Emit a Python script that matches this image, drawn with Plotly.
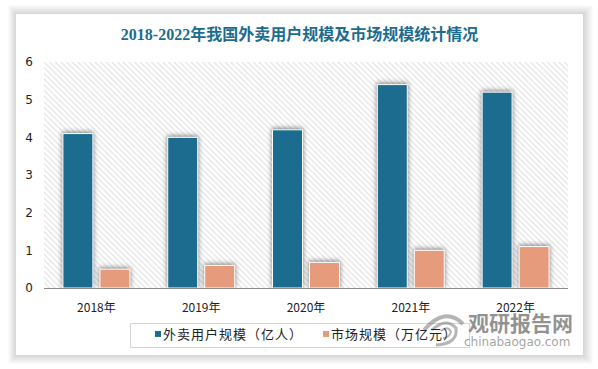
import plotly.graph_objects as go

categories = ["2018年", "2019年", "2020年", "2021年", "2022年"]
users = [4.1, 4.0, 4.2, 5.4, 5.2]
market = [0.5, 0.6, 0.68, 1.0, 1.1]
y_ticks = [0, 1, 2, 3, 4, 5, 6]
title = "2018-2022年我国外卖用户规模及市场规模统计情况"
name_users = "外卖用户规模（亿人）"
name_market = "市场规模（万亿元）"
W, H = 598, 369
L, R, T, B = 44, 568, 62, 288

def px(x): return (x - L) / (R - L)
def py(y): return (B - y) / (B - T)

fig = go.Figure()
# hatched plot background on the base axes, with the bars on an overlay above it
fig.add_trace(go.Bar(x=[categories[2]], y=[6], width=5, offset=-2.5,
    marker=dict(color="white", line_width=0,
        pattern=dict(shape="\\", size=4, solidity=0.32, fgcolor="#c8c8c8", bgcolor="#ffffff")),
    showlegend=False, hoverinfo="skip"))
fig.add_trace(go.Bar(x=categories, y=users, name=name_users, xaxis="x2", yaxis="y2",
    marker=dict(color="#1b6c8f", line=dict(color="white", width=1))))
fig.add_trace(go.Bar(x=categories, y=market, name=name_market, xaxis="x2", yaxis="y2",
    marker=dict(color="#e59b7c", line=dict(color="white", width=1))))

shapes = []
for i in range(10, 0, -1):
    shapes.append(dict(type="rect", xref="paper", yref="paper", layer="below",
        x0=px(16-i*0.8), x1=px(583+i), y0=py(355+i*0.9), y1=py(14-i*0.9),
        fillcolor="rgba(0,0,0,0.016)", line_width=0))
shapes.append(dict(type="rect", xref="paper", yref="paper", layer="below",
    x0=px(16), x1=px(583), y0=py(355), y1=py(14), fillcolor="white", line_width=0))
# legend frame
shapes.append(dict(type="rect", xref="paper", yref="paper", layer="above",
    x0=px(130.5), x1=px(469.5), y0=py(347.5), y1=py(323.5), fillcolor="rgba(0,0,0,0)",
    line=dict(color="#d4d4d4", width=1)))
# watermark logo
for path, w in [
    (f"M {px(424)} {py(330)} Q {px(445)} {py(306)} {px(463)} {py(324)}", 4),
    (f"M {px(432)} {py(330)} Q {px(446)} {py(317)} {px(456)} {py(328)} Q {px(458)} {py(344)} {px(436)} {py(345)}", 3),
    (f"M {px(441)} {py(331)} Q {px(448)} {py(325)} {px(451)} {py(332)} Q {px(449)} {py(338)} {px(443)} {py(338)}", 2),
]:
    shapes.append(dict(type="path", xref="paper", yref="paper", layer="above", path=path,
        line=dict(color="rgba(120,120,120,0.55)", width=w)))

annotations = [
    dict(text="观研报告网", xref="paper", yref="paper", x=px(520), y=py(322), showarrow=False,
         xanchor="center", yanchor="middle",
         font=dict(family="Noto Sans CJK SC", size=21, color="rgba(110,110,110,0.75)", weight="bold")),
    dict(text="chinabaogao.com", xref="paper", yref="paper", x=px(517), y=py(342), showarrow=False,
         xanchor="center", yanchor="middle",
         font=dict(family="DejaVu Sans", size=12, color="rgba(120,120,120,0.7)")),
]

fig.update_layout(
    width=W, height=H, autosize=False, paper_bgcolor="white", plot_bgcolor="rgba(0,0,0,0)",
    margin=dict(l=L, r=W-R, t=T, b=H-B, autoexpand=False),
    barmode="group", bargap=0.294, bargroupgap=0.19,
    title=dict(text=title, x=299.5/W, xref="container", xanchor="center", y=1-34/H, yanchor="middle",
        font=dict(family="Liberation Serif, Noto Sans CJK SC", size=16, color="#1b6c8f", weight="bold")),
    font=dict(family="Noto Sans CJK SC", size=12, color="#222222"),
    xaxis=dict(type="category", categoryorder="array", categoryarray=categories,
        showline=True, linecolor="#8c8c8c", linewidth=1, ticks="", ticklen=0, ticklabelstandoff=9,
        tickfont=dict(size=12), showgrid=False, range=[-0.5, 4.5], zeroline=False),
    yaxis=dict(range=[0, 6], tickvals=y_ticks, showgrid=False, zeroline=False, showline=False,
        ticks="", ticklabelstandoff=10, tickfont=dict(size=12, family="DejaVu Sans")),
    xaxis2=dict(overlaying="x", type="category", categoryorder="array", categoryarray=categories,
        range=[-0.5, 4.5], visible=False),
    yaxis2=dict(overlaying="y", range=[0, 6], visible=False),
    legend=dict(orientation="h", xref="paper", yref="paper", x=px(123), y=py(319),
        xanchor="left", yanchor="top", borderwidth=0, bgcolor="rgba(255,255,255,0)",
        font=dict(size=13, color="#222222"), entrywidth=123, entrywidthmode="pixels", itemwidth=30),
    shapes=shapes, annotations=annotations,
)
post = """
document.body.style.margin = '0';
var gd = document.querySelector('.plotly-graph-div');
gd.querySelectorAll('.legendtext').forEach(function(t){ t.style.letterSpacing = '1px'; });
gd.querySelectorAll('.legendpoints path').forEach(function(p){
  p.setAttribute('d', 'M3,3H-3V-3H3Z');
  p.setAttribute('transform', 'translate(35,0)');
  p.style.stroke = 'none';
});
gd.querySelectorAll('.barlayer .trace').forEach(function(t){
  var p = t.querySelector('path');
  if (p && !p.style.fill.includes('url'))
    t.style.filter = 'drop-shadow(0px -1px 2.5px rgba(0,0,0,0.5))';
});
"""
fig.write_html("out.html", post_script=post, config=dict(displayModeBar=False))
